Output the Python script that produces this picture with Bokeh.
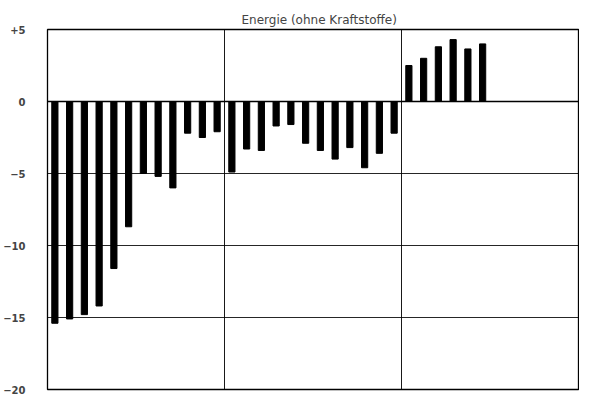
from bokeh.plotting import figure
from bokeh.models import FixedTicker, Span, Range1d
from bokeh.embed import file_html
from bokeh.resources import INLINE

# Monthly values, three panels (12 months each; last panel only first half)
panel1 = [-15.4, -15.1, -14.8, -14.2, -11.6, -8.7, -5.0, -5.2, -6.0, -2.2, -2.5, -2.1]
panel2 = [-4.9, -3.3, -3.4, -1.7, -1.6, -2.9, -3.4, -4.0, -3.2, -4.6, -3.6, -2.2]
panel3 = [2.5, 3.0, 3.8, 4.3, 3.65, 4.0]
months_per_panel = 12
y_ticks = [5, 0, -5, -10, -15, -20]
y_labels = ["+5", "0", "\u22125", "\u221210", "\u221215", "\u221220"]
title_text = "Energie (ohne Kraftstoffe)"

values = panel1 + panel2 + panel3
xs = [i + 0.5 for i in range(len(values))]

p = figure(width=579, height=394, output_backend="svg", toolbar_location=None,
           x_range=Range1d(0, 3 * months_per_panel), y_range=Range1d(-20, 5),
           min_border_left=46, min_border_right=1, min_border_top=29, min_border_bottom=5)

p.title.text = title_text
p.title.align = "left"
p.title.offset = 194
p.title.text_font = "DejaVu Sans"
p.title.text_font_size = "12px"
p.title.text_font_style = "normal"
p.title.standoff = 6

p.vbar(x=xs, top=values, bottom=0, width=0.42, color="black")

p.xaxis.visible = False
p.xgrid.ticker = FixedTicker(ticks=[months_per_panel, 2 * months_per_panel])
p.xgrid.grid_line_color = "black"
p.xgrid.grid_line_width = 1
p.xgrid.grid_line_alpha = 0.9

p.yaxis.ticker = FixedTicker(ticks=y_ticks)
p.yaxis.major_label_overrides = {t: l for t, l in zip(y_ticks, y_labels)}
p.yaxis.axis_line_color = None
p.yaxis.major_tick_line_color = None
p.yaxis.minor_tick_line_color = None
p.yaxis.major_label_standoff = 16
p.yaxis.major_label_text_font = "DejaVu Sans"
p.yaxis.major_label_text_font_style = "bold"
p.yaxis.major_label_text_font_size = "10px"
p.ygrid.ticker = FixedTicker(ticks=y_ticks)
p.ygrid.grid_line_color = "black"
p.ygrid.grid_line_width = 1
p.ygrid.grid_line_alpha = 0.85

p.add_layout(Span(location=0, dimension="width", line_color="black", line_width=1.6))

p.outline_line_color = "black"
p.outline_line_width = 1.3
p.background_fill_color = "white"
p.border_fill_color = "white"

open("out.html", "w").write(file_html(p, INLINE))
